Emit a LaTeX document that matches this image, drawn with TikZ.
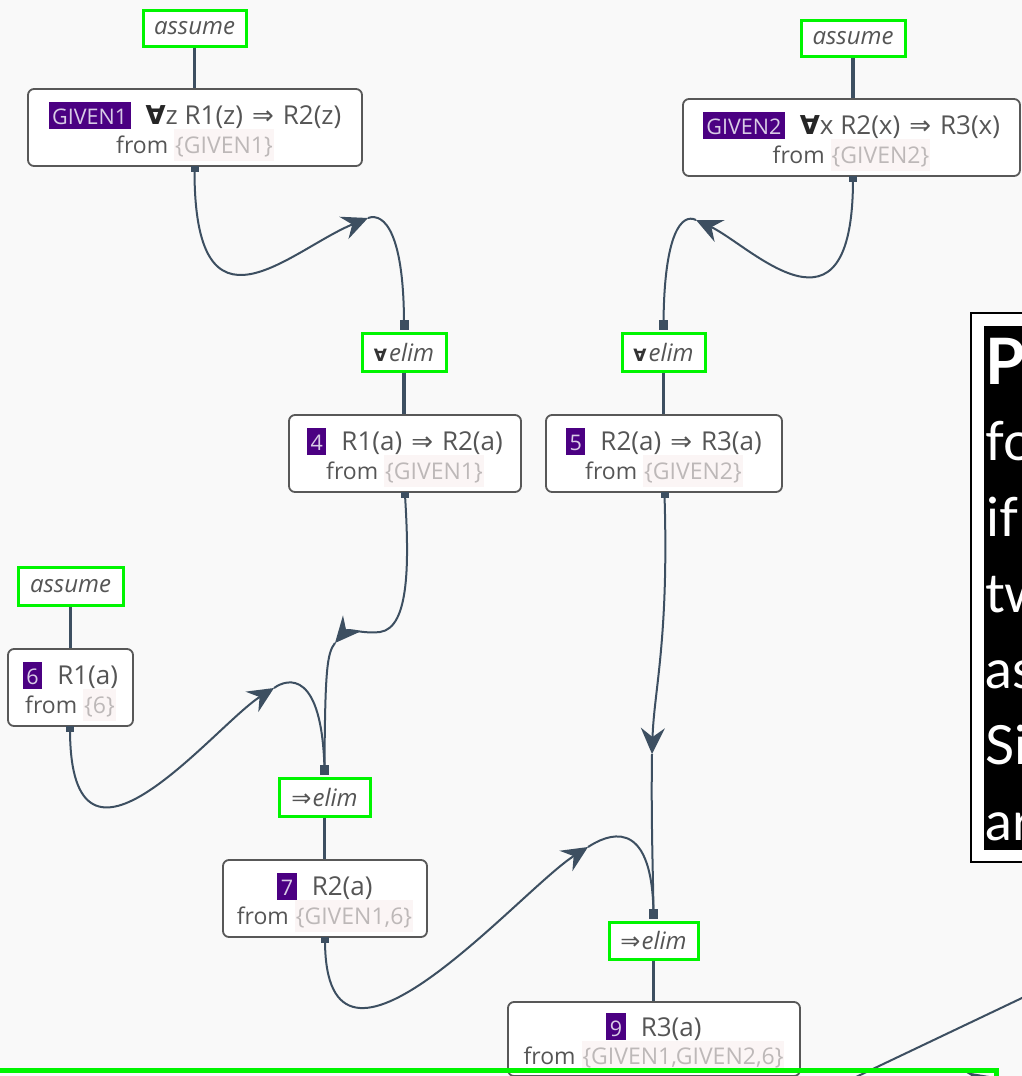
\documentclass[tikz,border=0pt]{standalone}
\usepackage{fontspec}
\setmainfont{Open Sans}
\newfontfamily\symfont{DejaVu Sans}
\newfontfamily\panelfont{Lato}
\usetikzlibrary{arrows.meta}

\definecolor{canvas}{HTML}{F9F9F9}
\definecolor{frame}{HTML}{585858}
\definecolor{ink}{HTML}{555555}
\definecolor{badge}{HTML}{4B0082}
\definecolor{badgefg}{HTML}{D9CCE6}
\definecolor{setbg}{HTML}{FBF5F5}
\definecolor{setfg}{HTML}{BDB8B8}
\definecolor{rulegreen}{HTML}{00F500}
\definecolor{wire}{HTML}{3D4F61}

% step number / premise tag
\newcommand\tagno[1]{{\setlength\fboxsep{0pt}\colorbox{badge}{\hspace{3.5pt}\textcolor{badgefg}{\fontsize{21.5}{24}\selectfont\rule[-4pt]{0pt}{27pt}#1}\hspace{3.5pt}}}}
% dependency set
\newcommand\deps[1]{{\setlength\fboxsep{0pt}\colorbox{setbg}{\hspace{1pt}\textcolor{setfg}{\rule[-8pt]{0pt}{32pt}\{#1\}}\hspace{1pt}}}}
\newcommand\fa{{\symfont\upshape\bfseries\color{black!85}∀}}
\newcommand\imp{\hspace{9pt}{\symfont\upshape ⇒}\hspace{9pt}}
\newcommand\faelim{{\symfont\upshape\bfseries\fontsize{17}{17}\selectfont\color{black!80}∀}\hspace{2pt}elim}
\newcommand\impelim{{\symfont\upshape\color{ink}⇒}\hspace{1pt}elim}
\newcommand\stmt[3]{{\fontsize{26}{28.4}\selectfont\rule{0pt}{31pt}\tagno{#1}\hspace{15pt}#2}\\
  {\fontsize{23}{28.4}\selectfont from \deps{#3}}}

\tikzset{
  stmtbox/.style={draw=frame, line width=1.8pt, fill=white, rounded corners=6pt,
    inner sep=0pt, align=center, text=ink, font=\fontsize{24}{28.4}\selectfont},
  rulebox/.style={draw=rulegreen, line width=3pt, fill=white, inner sep=0pt,
    text=ink, font=\fontsize{24}{26}\selectfont\itshape},
  link/.style={draw=wire, line width=3.5pt},
  flow/.style={draw=wire, line width=2pt},
  midtip/.style={-{Stealth[length=26pt,width=24pt,inset=9pt]}},
  srcport/.style={fill=wire, minimum width=8pt, minimum height=6pt, inner sep=0pt},
  dstport/.style={fill=wire, minimum width=9pt, minimum height=10pt, inner sep=0pt},
  panelline/.style={anchor=base west, inner sep=0pt, text=white,
    font=\panelfont\fontsize{54}{60}\selectfont},
}

\begin{document}
\begin{tikzpicture}[x=1pt,y=-1pt]
\useasboundingbox (0,0) rectangle (1022,1076);
\clip (0,0) rectangle (1022,1076);
\fill[canvas] (0,0) rectangle (1022,1076);

% ---- node placement
\path
  (194.5,28)   coordinate (as1c)
  (195,127.5)  coordinate (g1c)
  (853,38)     coordinate (as2c)
  (851.5,137.5) coordinate (g2c)
  (404,352)    coordinate (ae1c)
  (663.5,352)  coordinate (ae2c)
  (405,453.5)  coordinate (n4c)
  (664,453.5)  coordinate (n5c)
  (70.5,586)   coordinate (as3c)
  (70.5,687.5) coordinate (n6c)
  (324.5,797)  coordinate (ie1c)
  (325,898.5)  coordinate (n7c)
  (653.5,940.5) coordinate (ie2c)
  (654,1039)   coordinate (n9c);

\node[rulebox, minimum width=103pt, minimum height=36pt] (as1) at (as1c) {assume};
\node[rulebox, minimum width=104pt, minimum height=36pt] (as2) at (as2c) {assume};
\node[rulebox, minimum width=84pt, minimum height=38pt] (ae1) at (ae1c) {\faelim};
\node[rulebox, minimum width=83pt, minimum height=38pt] (ae2) at (ae2c) {\faelim};
\node[rulebox, minimum width=105pt, minimum height=38pt] (as3) at (as3c) {assume};
\node[rulebox, minimum width=91pt, minimum height=38pt] (ie1) at (ie1c) {\impelim};
\node[rulebox, minimum width=89pt, minimum height=37pt] (ie2) at (ie2c) {\impelim};

% ---- ports where the curved wires attach
\coordinate (pA) at (194.5,169);
\coordinate (pB) at (853,179);
\coordinate (pC) at (405,495);
\coordinate (pD) at (664.5,495);
\coordinate (pE) at (70,729);
\coordinate (pF) at (325,940);
\coordinate (qA) at ([yshift=7pt]ae1.north);
\coordinate (qB) at ([yshift=7pt]ae2.north);
\coordinate (qC) at ([yshift=7pt]ie1.north);
\coordinate (qD) at ([yshift=7pt]ie2.north);

% ---- curved wires with mid-way arrow heads
\coordinate (mA) at (368,218);
\coordinate (mB) at (696,220);
\coordinate (mC) at (335,643);
\coordinate (mD) at (652,754);
\coordinate (mE) at (274,688);
\coordinate (mF) at (588,847);

\draw[flow, midtip] (pA) .. controls (194,350) and (290,250) .. (mA);
\draw[flow] (mA) .. controls (385,212) and (404,235) .. (qA);

\draw[flow, midtip] (pB) .. controls (853,355) and (750,245) .. (mB);
\draw[flow] (mB) .. controls (682,213) and (664,232) .. (qB);

\draw[flow] (pC) .. controls (409,560) and (410,628) .. (380,632);
\draw[flow, midtip] (380,632) .. controls (362,634) and (348,628) .. (mC);
\draw[flow] (mC) .. controls (327,653) and (325,670) .. (qC);

\draw[flow, midtip] (pD) .. controls (669,640) and (654,690) .. (mD);
\draw[flow] (mD) .. controls (651,820) and (653,870) .. (qD);

\draw[flow, midtip] (pE) .. controls (70,910) and (215,725) .. (mE);
\draw[flow] (mE) .. controls (288,678) and (322,670) .. (qC);

\draw[flow, midtip] (pF) .. controls (325,1120) and (520,890) .. (mF);
\draw[flow] (mF) .. controls (605,836) and (652,812) .. (qD);

% ---- wire leaving towards the lower right
\coordinate (offA) at (1040,989.4);
\coordinate (offB) at (840,1084.6);
\draw[flow] (offA) -- (offB);
\fill[wire] (965,1072) -- (992,1076.5) -- (975,1078) -- cycle;

% ---- straight rule links
\draw[link] (as1.south) -- (as1.south |- 0,89);
\draw[link] (as2.south) -- (as2.south |- 0,99);
\draw[link] (ae1.south) -- (ae1.south |- 0,415);
\draw[link] (ae2.south) -- (ae2.south |- 0,415);
\draw[link] (as3.south) -- (as3.south |- 0,649);
\draw[link] (ie1.south) -- (ie1.south |- 0,860);
\draw[link] (ie2.south) -- (ie2.south |- 0,1002);

% ---- statements
\node[stmtbox, minimum width=334pt, minimum height=77pt] (g1) at (g1c)
  {\stmt{GIVEN1}{\fa z R1(z)\imp R2(z)}{GIVEN1}};
\node[stmtbox, minimum width=337pt, minimum height=77pt] (g2) at (g2c)
  {\stmt{GIVEN2}{\fa x R2(x)\imp R3(x)}{GIVEN2}};
\node[stmtbox, minimum width=232pt, minimum height=77pt] (n4) at (n4c)
  {\stmt{4}{R1(a)\imp R2(a)}{GIVEN1}};
\node[stmtbox, minimum width=236pt, minimum height=77pt] (n5) at (n5c)
  {\stmt{5}{R2(a)\imp R3(a)}{GIVEN2}};
\node[stmtbox, minimum width=125pt, minimum height=77pt] (n6) at (n6c)
  {\stmt{6}{R1(a)}{6}};
\node[stmtbox, minimum width=204pt, minimum height=77pt] (n7) at (n7c)
  {\stmt{7}{R2(a)}{GIVEN1,6}};
\node[stmtbox, minimum width=292pt, minimum height=74pt] (n9) at (n9c)
  {\stmt{9}{R3(a)}{GIVEN1,GIVEN2,6}};

% ---- attachment squares
\foreach \p in {pA,pB,pC,pD,pE,pF} \node[srcport] at (\p) {};
\foreach \q in {qA,qB,qC,qD} \node[dstport] at (\q) {};

% ---- text box below
\draw[rulegreen, line width=5pt] (-10,1070.5) -- (996.5,1070.5) -- (996.5,1095);

% ---- explanation panel on the right
\draw[black, line width=2pt, fill=white] (971,313) rectangle (1060,862);
\fill[black] (984,326) rectangle (1060,850);
\node[panelline, font=\panelfont\bfseries\fontsize{64}{70}\selectfont] (ln1) at (985,384) {Proof};
\node[panelline] (ln2) at (985,460) {for};
\node[panelline] (ln3) at (986,536) {if};
\node[panelline] (ln4) at (985,612) {two};
\node[panelline] (ln5) at (985,688) {as};
\node[panelline] (ln6) at (985,764) {Since};
\node[panelline] (ln7) at (985,840) {are};
\end{tikzpicture}
\end{document}
